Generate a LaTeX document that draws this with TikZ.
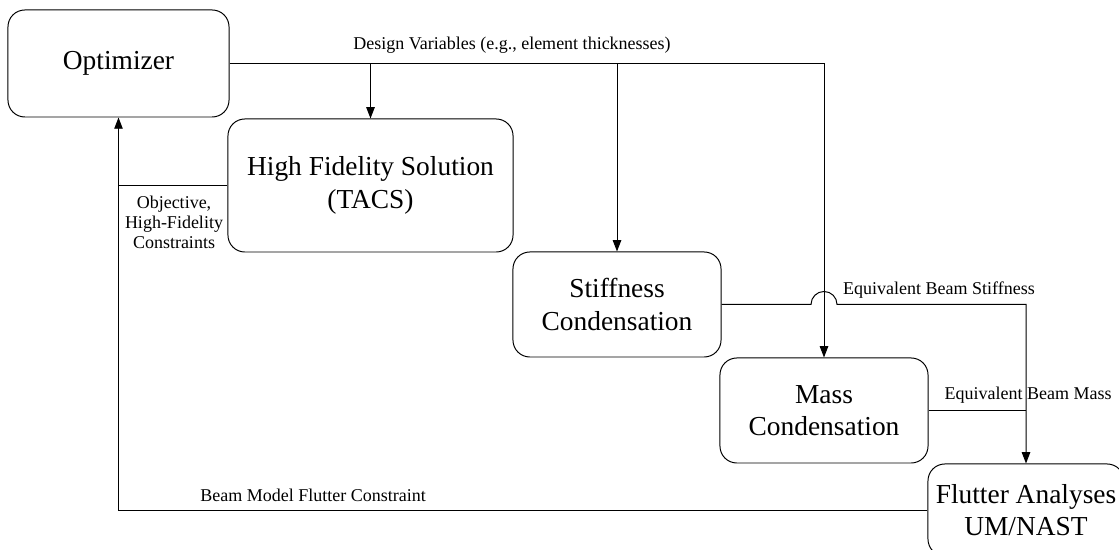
\documentclass[tikz,border=0pt]{standalone}
\usepackage{fontspec}
\setmainfont{Liberation Serif}
\usetikzlibrary{arrows.meta}

\begin{document}
\begin{tikzpicture}[x=0.025cm,y=0.025cm,line width=0.7pt,
		>={Triangle[length=8pt,width=6pt]},
		block/.style={draw,rounded corners=12pt,align=center,inner sep=0pt,font=\fontsize{19.5}{23}\selectfont},
		lbl/.style={align=center,inner sep=1pt,font=\fontsize{12.8}{14.2}\selectfont}]
			\useasboundingbox (0,0) rectangle (1119,550);
			\draw (118.5,486.5) node [block,minimum width=5.525cm,minimum height=2.675cm] (opt) {Optimizer};
			\draw (370.5,364.5) node [block,minimum width=7.125cm,minimum height=3.325cm] (hfs) {High Fidelity Solution\\(TACS)};
			\draw (617,245.5) node [block,minimum width=5.2cm,minimum height=2.625cm] (stiff) {Stiffness\\Condensation};
			\draw (824,139.5) node [block,minimum width=5.2cm,minimum height=2.625cm] (mass) {Mass\\Condensation};
			\draw (1026,40) node [block,minimum width=4.9cm,minimum height=2.3cm] (flutter) {Flutter Analyses\\UM/NAST};
			\draw (512,505) node [lbl] (dv) {Design Variables (e.g., element thicknesses)};
			\draw (174,328) node [lbl] (obj) {Objective,\\High-Fidelity\\Constraints};
			\draw (313,55) node [lbl] (bmf) {Beam Model Flutter Constraint};
			\draw (939,260) node [lbl] (ebs) {Equivalent Beam Stiffness};
			\draw (1028,155) node [lbl] (ebm) {Equivalent Beam Mass};
			% corners and crossings
			\coordinate (back) at (opt.south |- flutter.west);
			\coordinate (join) at (flutter.north);
			\coordinate (hop) at (mass.north |- stiff.east);
			% design variables out to the solvers
			\draw[->] (opt.east) -| (mass.north);
			\draw[->] (hfs.north |- opt.east) -- (hfs.north);
			\draw[->] (stiff.north |- opt.east) -- (stiff.north);
			% results back to the optimizer
			\draw (hfs.west) -- (opt.south |- hfs.west);
			\draw[->] (flutter.west) -- (back) -- (opt.south);
			% condensed beam properties
			\draw[->] (stiff.east) -- ([xshift=-0.325cm]hop) arc[start angle=180,end angle=0,radius=0.325cm]
				-- (join |- stiff.east) -- (join);
			\draw (mass.east) -- (join |- mass.east);
		\end{tikzpicture}
\end{document}
